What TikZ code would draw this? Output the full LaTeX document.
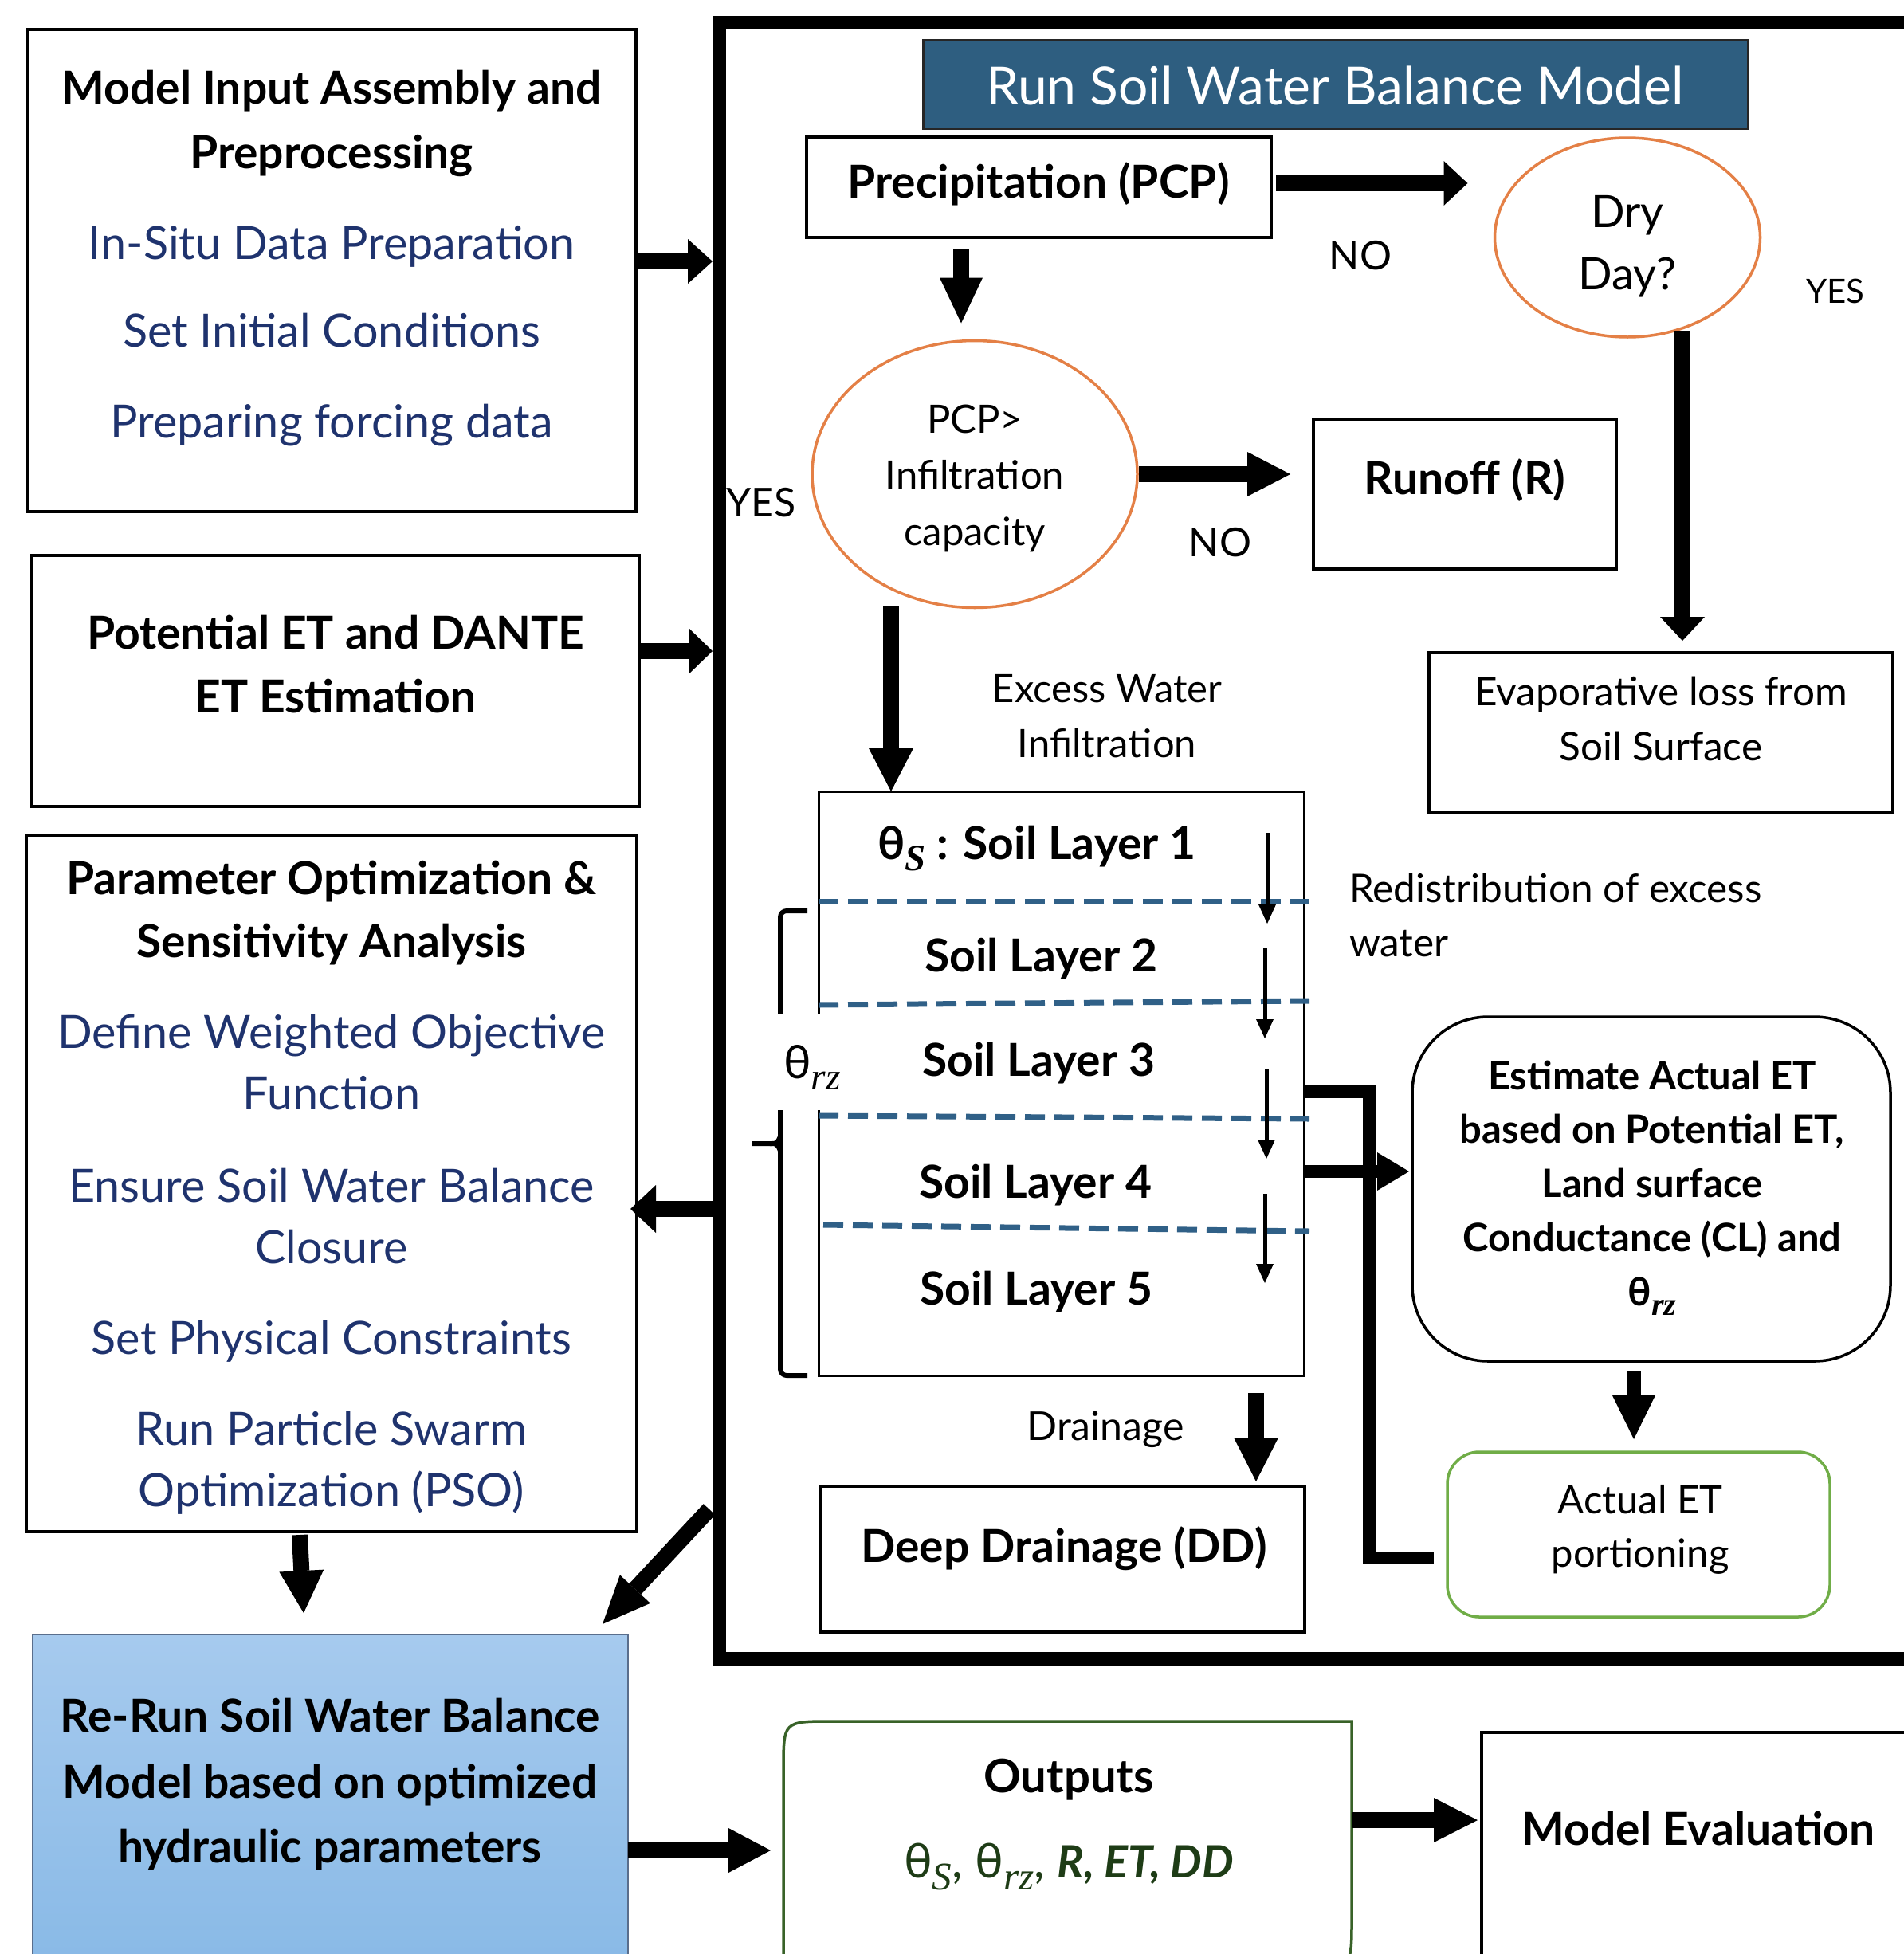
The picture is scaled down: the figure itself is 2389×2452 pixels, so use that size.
\documentclass[tikz,border=0pt]{standalone}
\usepackage{fontspec}
\setmainfont{Lato}
\newfontfamily\serifit{Liberation Serif}
\usepackage{graphicx}
\usetikzlibrary{arrows.meta,shapes.geometric,calc}
\definecolor{navyt}{RGB}{31,51,110}
\definecolor{orng}{RGB}{228,128,70}
\definecolor{banner}{RGB}{46,94,128}
\definecolor{dashblue}{RGB}{48,96,135}
\definecolor{lgreen}{RGB}{112,173,71}
\definecolor{dgreen}{RGB}{56,98,40}
\definecolor{ftgreen}{RGB}{30,60,22}
\definecolor{rtop}{RGB}{166,202,238}
\definecolor{rbot}{RGB}{136,185,230}
\definecolor{rborder}{RGB}{90,110,140}
\newcommand{\fsz}[1]{\fontsize{#1}{#1}\selectfont}
\newcommand{\lowsub}[1]{\raisebox{-0.24em}{\scalebox{0.82}{\serifit\itshape #1}}}
\begin{document}
\begin{tikzpicture}[x=1pt,y=-1pt,
  box/.style={draw=black, line width=3.5pt, inner sep=0pt, outer sep=0pt},
  tr/.style={inner sep=0pt, outer sep=0pt, text height=0.72*#1pt, text depth=0pt, font=\fsz{#1}},
  tb/.style={tr=#1, font=\fsz{#1}\bfseries},
  fat/.style={line width=20pt, -{Triangle[width=56pt,length=#1,line width=0pt]}},
  fat/.default=40pt,
  sarrow/.style={line width=5pt, -{Triangle[width=22pt,length=24pt,line width=0pt]}},
  dsh/.style={dashblue, line width=7pt, dash pattern=on 25pt off 12pt},
  brk/.style={line width=6pt, rounded corners=8pt},
]
\fill[white] (0,0) rectangle (2389,2452);
\useasboundingbox (0,0) rectangle (2389,2452);

% ---------- left column ----------
\node[box, minimum width=764pt, minimum height=605pt] (inA) at (416,339.5) {};
\node[tb=57] (inA1) at (416,110) {Model Input Assembly and};
\node[tb=57] (inA2) at (416,191) {Preprocessing};
\node[tr=57.5, text=navyt] (inA3) at (416,305) {In-Situ Data Preparation};
\node[tr=57.5, text=navyt] (inA4) at (416,415) {Set Initial Conditions};
\node[tr=57.5, text=navyt] (inA5) at (416,529) {Preparing forcing data};

\node[box, minimum width=762pt, minimum height=315pt] (potB) at (421,854.5) {};
\node[tb=57] (potB1) at (421,794) {Potential ET and DANTE};
\node[tb=57] (potB2) at (421,874) {ET Estimation};

\node[box, minimum width=766pt, minimum height=874pt] (parC) at (416,1485) {};
\node[tb=57] (parC1) at (416,1102) {Parameter Optimization \&};
\node[tb=57] (parC2) at (416,1181) {Sensitivity Analysis};
\node[tr=57.5, text=navyt] (parC3) at (416,1295) {Define Weighted Objective};
\node[tr=57.5, text=navyt] (parC4) at (416,1372) {Function};
\node[tr=57.5, text=navyt] (parC5) at (416,1488) {Ensure Soil Water Balance};
\node[tr=57.5, text=navyt] (parC6) at (416,1565) {Closure};
\node[tr=57.5, text=navyt] (parC7) at (416,1679) {Set Physical Constraints};
\node[tr=57.5, text=navyt] (parC8) at (416,1793) {Run Particle Swarm};
\node[tr=57.5, text=navyt] (parC9) at (416,1870) {Optimization (PSO)};

\node[draw=rborder, line width=2pt, top color=rtop, bottom color=rbot, minimum width=747pt, minimum height=429pt, inner sep=0pt, outer sep=0pt] (rerun) at (414.5,2265.5) {};
\node[tb=57] (rerun1) at (414,2153) {Re-Run Soil Water Balance};
\node[tb=57] (rerun2) at (414,2236) {Model based on optimized};
\node[tb=57] (rerun3) at (414,2317) {hydraulic parameters};

% ---------- main frame ----------
\node[draw=black, line width=17pt, minimum width=1495pt, minimum height=2053pt, inner sep=0pt, outer sep=0pt] (frame) at (1649.5,1054.5) {};

\node[draw=black!85, line width=3pt, fill=banner, minimum width=1035pt, minimum height=111pt, inner sep=0pt, outer sep=0pt] (banner) at (1675.5,105.5) {};
\node[tr=66, text=white] (bannerT) at (1675,108) {Run Soil Water Balance Model};

\node[box, minimum width=583pt, minimum height=126pt] (pcp) at (1303.5,235) {};
\node[tb=57] (pcpT) at (1303,228) {Precipitation (PCP)};

\node[ellipse, draw=orng, line width=3.5pt, minimum width=333pt, minimum height=250pt, inner sep=0pt, outer sep=0pt] (dry) at (2042,298) {};
\node[tr=56] (dry1) at (2042,265) {Dry};
\node[tr=56] (dry2) at (2042,343) {Day?};

\node[ellipse, draw=orng, line width=3.5pt, minimum width=408pt, minimum height=335pt, inner sep=0pt, outer sep=0pt] (pcpgt) at (1223,595) {};
\node[tr=49] (pcpgt1) at (1223,526) {PCP>};
\node[tr=49] (pcpgt2) at (1223,596) {Infiltration};
\node[tr=49] (pcpgt3) at (1223,667) {capacity};

\node[box, minimum width=380pt, minimum height=188pt] (runoff) at (1838,620) {};
\node[tb=57] (runoffT) at (1838,600) {Runoff (R)};

\node[box, minimum width=582pt, minimum height=201pt] (evap) at (2084,919.5) {};
\node[tr=49.5] (evap1) at (2084,868) {Evaporative loss from};
\node[tr=49.5] (evap2) at (2084,937) {Soil Surface};

\node[box, line width=3pt, minimum width=609pt, minimum height=733pt] (soil) at (1331.5,1359.5) {};
\draw[dsh] ($(soil.north west)+(0,138)$) -- ($(soil.north west)+(616,138)$);
\draw[dsh] ($(soil.north west)+(0,268)$) -- ($(soil.north west)+(616,263)$);
\draw[dsh] ($(soil.north west)+(0,407)$) -- ($(soil.north west)+(616,411)$);
\draw[dsh] ($(soil.north west)+(6,544)$) -- ($(soil.north west)+(616,552)$);
\fill[white] (927,1272) rectangle (1045,1393);
\draw[brk] (1013,1143) -- (979,1143) -- (979,1272);
\draw[brk] (979,1393) -- (979,1726) -- (1013,1726);
\draw[line width=6pt] (943,1435) -- (966,1435) .. controls (975,1435) .. (979,1426);
\draw[line width=6pt] (966,1435) .. controls (975,1435) .. (979,1444);
\node[tr=58] (thrz) at (1019,1333) {θ\lowsub{rz}};
\node[tb=57] (soil1) at (1301,1058) {θ\lowsub{S} : Soil Layer 1};
\node[tb=57] (soil2) at (1306,1199) {Soil Layer 2};
\node[tb=57] (soil3) at (1303,1330) {Soil Layer 3};
\node[tb=57] (soil4) at (1299,1483) {Soil Layer 4};
\node[tb=57] (soil5) at (1300,1617) {Soil Layer 5};
\draw[sarrow] ($(soil.north east)+(-46,52)$) -- ($(soil.north east)+(-46,166)$);
\draw[sarrow] ($(soil.north east)+(-49,197)$) -- ($(soil.north east)+(-49,310)$);
\draw[sarrow] ($(soil.north east)+(-47,349)$) -- ($(soil.north east)+(-47,461)$);
\draw[sarrow] ($(soil.north east)+(-49,505)$) -- ($(soil.north east)+(-49,617)$);

\node[box, rounded corners=95pt, minimum width=600pt, minimum height=432pt] (estET) at (2072,1492) {};
\node[tb=49] (est1) at (2073,1350) {Estimate Actual ET};
\node[tb=49] (est2) at (2073,1417) {based on Potential ET,};
\node[tb=49] (est3) at (2073,1485) {Land surface};
\node[tb=49] (est4) at (2073,1553) {Conductance (CL) and};
\node[tb=49] (est5) at (2073,1621) {θ\lowsub{rz}};

\node[draw=lgreen, line width=3.5pt, rounded corners=40pt, minimum width=480pt, minimum height=207pt, inner sep=0pt, outer sep=0pt] (actET) at (2056,1925.5) {};
\node[tr=49] (act1) at (2058,1882) {Actual ET};
\node[tr=49] (act2) at (2058,1949) {portioning};

\node[box, minimum width=608pt, minimum height=183pt] (dd) at (1333,1956.5) {};
\node[tb=57] (ddT) at (1335,1940) {Deep Drainage (DD)};

% labels
\node[tr=50] (no1) at (1707,320) {NO};
\node[tr=42] (yes1) at (2303,365) {YES};
\node[tr=50] (yes2) at (955,630) {YES};
\node[tr=50] (no2) at (1531,680) {NO};
\node[tr=49] (exc1) at (1389,864) {Excess Water};
\node[tr=49] (exc2) at (1389,933) {Infiltration};
\node[tr=49.5, anchor=west] (red1) at (1693,1115) {Redistribution of excess};
\node[tr=49.5, anchor=west] (red2) at (1693,1183) {water};
\node[tr=50] (drn) at (1387,1789) {Drainage};

% ---------- bottom row ----------
\node[inner sep=0pt, outer sep=0pt, minimum width=713pt, minimum height=310pt] (outputs) at (1339.5,2315) {};
\draw[draw=dgreen, line width=3.5pt] ($(outputs.north west)+(0,60)$) .. controls (outputs.north west) .. ($(outputs.north west)+(60,0)$) -- (outputs.north east) -- ($(outputs.south east)+(0,-60)$) .. controls (outputs.south east) .. ($(outputs.south east)+(-60,0)$) -- (outputs.south west) -- cycle;
\node[tb=58] (outT) at (1341,2229) {Outputs};
\node[tr=60, text=ftgreen] (outF) at (1341,2335) {θ\lowsub{S}, θ\lowsub{rz}, {\bfseries\itshape\fontsize{56}{56}\selectfont R, ET, DD}};

\node[box, minimum width=561pt, minimum height=306pt] (modeleval) at (2139.5,2327) {};
\node[tb=57] (meT) at (2131,2295) {Model Evaluation};

% ---------- connectors ----------
\draw[fat=31pt] ($(inA.east)+(0,-11.5)$) -- ($(inA.east -| frame.west)+(-8,-11.5)$);
\draw[fat=29pt] ($(potB.east)+(0,-37.5)$) -- ($(potB.east -| frame.west)+(-8,-37.5)$);
\draw[fat, -{Triangle[width=60pt,length=32pt,line width=0pt]}] ($(parC.east -| frame.west)+(-8,32)$) -- ($(parC.east)+(-8,32)$);
\draw[fat=53pt] ($(parC.south)+(-40,4)$) -- ($(rerun.north)+(-33.5,-27)$);
\draw[fat, -{Triangle[width=52pt,length=60pt,line width=0pt]}] ($(frame.west)+(-12,839.5)$) -- ($(rerun.north east)+(-32,-13)$);
\draw[fat, -{Triangle[width=54pt,length=57pt,line width=0pt]}] ($(pcp.south)+(-97.5,14)$) -- ($(pcpgt.north)+(-17,-22)$);
\draw[fat=30pt] ($(pcp.east)+(6,-5)$) -- ($(pcp.east -| dry.west)+(-34,-5)$);
\draw[fat=30pt] ($(dry.south)+(69,-8)$) -- ($(evap.north)+(27,-15)$);
\draw[fat=54pt] ($(pcpgt.east)+(2,0)$) -- ($(pcpgt.east -| runoff.west)+(-29,0)$);
\draw[fat=54pt] ($(pcpgt.south)+(-105,-2)$) -- ($(soil.north)+(-213.5,0)$);
\draw[line width=16pt, -{Triangle[width=48pt,length=40pt,line width=0pt]}] ($(soil.east)+(0,110.5)$) -- ($(soil.east -| estET.west)+(-4,110.5)$);
\draw[line width=18pt, -{Triangle[width=55pt,length=56pt,line width=0pt]}] ($(estET.south)+(-22,12)$) -- ($(actET.north)+(-6,-16)$);
\draw[fat=55pt] ($(soil.south)+(244.5,22)$) -- ($(dd.north)+(243,-6)$);
\draw[line width=16pt, line join=miter] ($(actET.west)+(-17,29.5)$) -| ($(soil.east)+(82,10.5)$) -- ($(soil.east)+(0,10.5)$);
\draw[fat=53pt] ($(rerun.east)+(0,56.5)$) -- ($(rerun.east -| outputs.west)+(-16,56.5)$);
\draw[fat=55pt] ($(outputs.east)+(0,-31)$) -- ($(outputs.east -| modeleval.west)+(-5,-31)$);
\end{tikzpicture}
\end{document}
